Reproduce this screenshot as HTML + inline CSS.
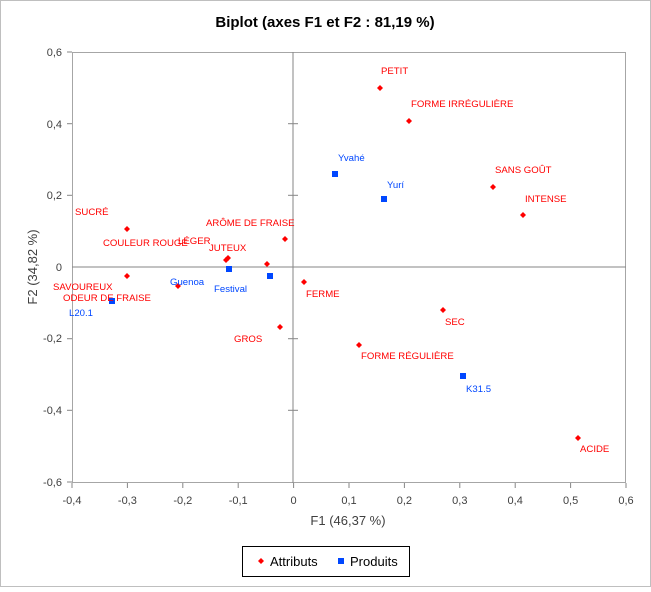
<!DOCTYPE html>
<html><head><meta charset="utf-8"><style>
body{margin:0;background:#fff}
svg text{font-family:"Liberation Sans",sans-serif}
</style></head><body>
<svg width="651" height="587" xmlns="http://www.w3.org/2000/svg">
<rect x="0.5" y="0.5" width="650" height="586" fill="#fff" stroke="#bfbfbf"/>
<text x="325" y="27" font-size="15" font-weight="bold" text-anchor="middle">Biplot (axes F1 et F2 : 81,19 %)</text>
<rect x="72.5" y="52.5" width="553" height="430" fill="none" stroke="#a6a6a6"/>
<line x1="293" y1="52" x2="293" y2="483" stroke="#868686"/>
<line x1="72" y1="267" x2="626" y2="267" stroke="#868686"/>
<g stroke="#868686">
<line x1="72" y1="483" x2="72" y2="488"/><line x1="127.4" y1="483" x2="127.4" y2="488"/><line x1="182.8" y1="483" x2="182.8" y2="488"/><line x1="238.2" y1="483" x2="238.2" y2="488"/><line x1="293.6" y1="483" x2="293.6" y2="488"/><line x1="349" y1="483" x2="349" y2="488"/><line x1="404.4" y1="483" x2="404.4" y2="488"/><line x1="459.8" y1="483" x2="459.8" y2="488"/><line x1="515.2" y1="483" x2="515.2" y2="488"/><line x1="570.6" y1="483" x2="570.6" y2="488"/><line x1="626" y1="483" x2="626" y2="488"/>
<line x1="67" y1="52" x2="72" y2="52"/><line x1="67" y1="123.7" x2="72" y2="123.7"/><line x1="67" y1="195.3" x2="72" y2="195.3"/><line x1="67" y1="338.7" x2="72" y2="338.7"/><line x1="67" y1="410.3" x2="72" y2="410.3"/><line x1="67" y1="482" x2="72" y2="482"/>
<line x1="288" y1="123.7" x2="298" y2="123.7"/><line x1="288" y1="195.3" x2="298" y2="195.3"/><line x1="288" y1="338.7" x2="298" y2="338.7"/><line x1="288" y1="410.3" x2="298" y2="410.3"/>
</g>
<g font-size="11" fill="#404040" text-anchor="middle">
<text x="72" y="504">-0,4</text><text x="127.4" y="504">-0,3</text><text x="182.8" y="504">-0,2</text><text x="238.2" y="504">-0,1</text><text x="293.6" y="504">0</text><text x="349" y="504">0,1</text><text x="404.4" y="504">0,2</text><text x="459.8" y="504">0,3</text><text x="515.2" y="504">0,4</text><text x="570.6" y="504">0,5</text><text x="626" y="504">0,6</text>
</g>
<g font-size="11" fill="#404040" text-anchor="end">
<text x="62" y="56">0,6</text><text x="62" y="128">0,4</text><text x="62" y="199">0,2</text><text x="62" y="271">0</text><text x="62" y="342">-0,2</text><text x="62" y="414">-0,4</text><text x="62" y="486">-0,6</text>
</g>
<text x="348" y="525" font-size="13" fill="#404040" text-anchor="middle">F1 (46,37 %)</text>
<text transform="translate(37,267) rotate(-90)" font-size="13" fill="#404040" text-anchor="middle">F2 (34,82 %)</text>
<g fill="#ff0000">
<path d="M380 85l3 3-3 3-3-3z"/><path d="M409 118l3 3-3 3-3-3z"/><path d="M493 184l3 3-3 3-3-3z"/><path d="M523 212l3 3-3 3-3-3z"/>
<path d="M127 226l3 3-3 3-3-3z"/><path d="M285 236l3 3-3 3-3-3z"/><path d="M226 257l3 3-3 3-3-3z"/><path d="M228 255l3 3-3 3-3-3z"/><path d="M267 261l3 3-3 3-3-3z"/>
<path d="M127 273l3 3-3 3-3-3z"/><path d="M178 283l3 3-3 3-3-3z"/><path d="M304 279l3 3-3 3-3-3z"/><path d="M280 324l3 3-3 3-3-3z"/><path d="M443 307l3 3-3 3-3-3z"/><path d="M359 342l3 3-3 3-3-3z"/><path d="M578 435l3 3-3 3-3-3z"/>
</g>
<g fill="#0047ff">
<rect x="332" y="171" width="6" height="6"/><rect x="381" y="196" width="6" height="6"/><rect x="226" y="266" width="6" height="6"/><rect x="267" y="273" width="6" height="6"/><rect x="109" y="298" width="6" height="6"/><rect x="460" y="373" width="6" height="6"/>
</g>
<g font-size="9.6" fill="#ff0000">
<text x="381" y="74">PETIT</text><text x="411" y="107">FORME IRRÉGULIÈRE</text><text x="495" y="173">SANS GOÛT</text><text x="525" y="202">INTENSE</text>
<text x="75" y="215">SUCRÉ</text><text x="103" y="246">COULEUR ROUGE</text><text x="178" y="244">LÉGER</text><text x="209" y="251">JUTEUX</text><text x="206" y="226">ARÔME DE FRAISE</text>
<text x="53" y="290">SAVOUREUX</text><text x="63" y="301">ODEUR DE FRAISE</text><text x="306" y="297">FERME</text><text x="234" y="342">GROS</text><text x="445" y="325">SEC</text><text x="361" y="359">FORME RÉGULIÈRE</text><text x="580" y="452">ACIDE</text>
</g>
<g font-size="9.6" fill="#0047ff">
<text x="338" y="161">Yvahé</text><text x="387" y="188">Yurí</text><text x="170" y="285">Guenoa</text><text x="214" y="292">Festival</text><text x="69" y="316">L20.1</text><text x="466" y="392">K31.5</text>
</g>
<rect x="242.5" y="546.5" width="167" height="30" fill="#fff" stroke="#000"/>
<path d="M261 558l3 3-3 3-3-3z" fill="#ff0000"/>
<text x="270" y="566" font-size="13" fill="#000">Attributs</text>
<rect x="338" y="558" width="6" height="6" fill="#0047ff"/>
<text x="350" y="566" font-size="13" fill="#000">Produits</text>
</svg>
</body></html>
